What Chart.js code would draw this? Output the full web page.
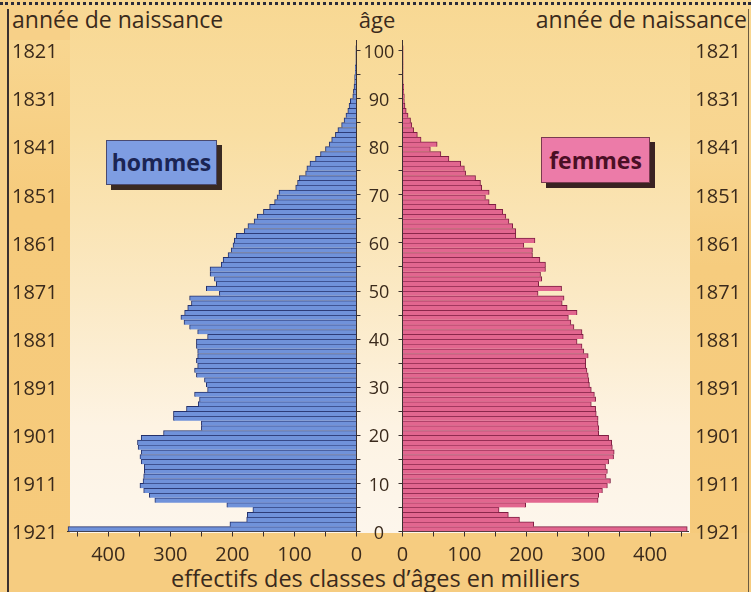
<!DOCTYPE html>
<html><head><meta charset="utf-8">
<script src="https://cdn.jsdelivr.net/npm/chart.js@4/dist/chart.umd.min.js"></script>
<style>
html,body{margin:0;padding:0;}
body{width:751px;height:592px;overflow:hidden;position:relative;font-family:"Open Sans",sans-serif;color:#3a2a1c;background:#F7D088;}
.abs{position:absolute;}
#inner{left:70px;top:0;width:620px;height:533px;background:linear-gradient(to bottom,#F8D893 0%,#F9DEA2 25%,#FBE9C4 55%,#FDF3E3 80%,#FDF6EC 100%);}
#leftstrip{left:8px;top:40px;width:62px;height:552px;background:linear-gradient(to bottom,#F8D690 0%,#F6CB7C 30%,#F6CA7B 100%);}
#rightstrip{left:690px;top:0;width:61px;height:592px;background:linear-gradient(to bottom,#F8D893 0%,#F8D590 25%,#F6CC7E 45%,#F6CA7B 100%);}
#bottomstrip{left:8px;top:533px;width:743px;height:59px;background:#F6CC80;}
#dots{left:0;top:2px;width:751px;height:0;border-top:3px dotted #2b2b3a;}
#lborder{left:7px;top:9px;width:2px;height:583px;background:#3a3030;}
#rborder{left:748px;top:9px;width:1px;height:583px;background:#6a5a40;}
.t{position:absolute;white-space:nowrap;line-height:1;color:#3a2a1c;}
.box{position:absolute;font-weight:700;font-size:22px;text-align:center;box-sizing:border-box;}
canvas{position:absolute;top:0;}
</style></head>
<body>
<div id="inner" class="abs"></div>
<div id="rightstrip" class="abs"></div>
<div id="leftstrip" class="abs"></div>
<div id="bottomstrip" class="abs"></div>
<div id="dots" class="abs"></div>
<div id="lborder" class="abs"></div>
<div id="rborder" class="abs"></div>

<div class="t" style="left:12px;top:8px;font-size:23px;">année de naissance</div>
<div class="t" style="left:354px;width:46px;text-align:center;top:8px;font-size:22px;">âge</div>
<div class="t" style="right:4px;top:8px;font-size:23px;">année de naissance</div>
<div class="t" style="left:0;width:751px;text-align:center;top:567px;font-size:23.5px;">effectifs des classes d’âges en milliers</div>

<div class="box" style="left:111px;top:145px;width:111px;height:45px;background:#3a2a22;"></div>
<div class="box" style="left:106px;top:140px;width:111px;height:45px;background:#7E9DE2;border:1px solid #4a4a70;color:#1b2554;line-height:43px;font-size:23px;">hommes</div>
<div class="box" style="left:546px;top:142px;width:109px;height:46px;background:#3a2222;"></div>
<div class="box" style="left:541px;top:137px;width:109px;height:46px;background:#EC7BA8;border:1px solid #7a3a50;color:#4a0f25;line-height:44px;font-size:23px;">femmes</div>

<canvas id="cm" width="400" height="592" style="left:0;"></canvas>
<canvas id="cf" width="400" height="592" style="left:351px;"></canvas>

<script>
// ---- data ----
const ages = [0,1,2,3,4,5,6,7,8,9,10,11,12,13,14,15,16,17,18,19,20,21,22,23,24,25,26,27,28,29,30,31,32,33,34,35,36,37,38,39,40,41,42,43,44,45,46,47,48,49,50,51,52,53,54,55,56,57,58,59,60,61,62,63,64,65,66,67,68,69,70,71,72,73,74,75,76,77,78,79,80,81,82,83,84,85,86,87,88,89,90,91,92,93,94,95,96,97,98,99,100];
const hommes = [465,204,177,176,167,209,325,334,343,349,
  344,343,342,342,347,349,347,352,353,347,
  311,250,250,295,295,274,255,253,261,240,
  242,245,258,261,256,258,256,256,258,258,
  240,256,269,278,283,277,272,266,269,221,
  242,226,229,236,236,218,215,207,202,199,
  197,194,181,175,165,160,150,140,132,128,
  125,98,95,92,82,80,75,66,58,50,
  44,40,34,30,24,20,17,14,12,10,
  6,5,4,3,3,2,2,1,1,1,
  1];
const femmes = [460,212,189,171,156,199,316,317,323,331,
  336,329,331,328,333,341,342,339,338,333,
  317,317,316,316,313,312,305,312,310,305,
  302,301,300,298,296,296,300,293,290,282,
  292,290,277,272,268,282,266,258,261,219,
  257,220,225,223,231,231,222,210,210,196,
  214,183,183,178,172,167,162,151,140,134,
  140,128,126,118,102,100,94,75,62,45,
  56,30,24,18,15,13,9,6,4,3,
  3,2,2,1,1,1,1,1,1,1,
  1];
const ageTicks = [0,10,20,30,40,50,60,70,80,90,100];
const yearTicks = [1921,1911,1901,1891,1881,1871,1861,1851,1841,1831,1821];
const effectifTicks = [0,100,200,300,400];

// ---- layout constants ----
const Y0 = 531.5, PXY = 4.81, YMAX = 102;
const TOP = Y0 - YMAX * PXY;
const XAXIS_H = 592 - Y0;
const INK = '#3a2a1c', LINE = '#3b3030';
Chart.defaults.font.family = '"Open Sans", sans-serif';
Chart.defaults.color = INK;

function keepFive(scale){ scale.ticks = scale.ticks.filter(t => Math.abs(t.value % 5) < 1e-6); }
function keepFifty(scale){ scale.ticks = scale.ticks.filter(t => Math.abs(t.value % 50) < 1e-6); }
function xAxis(max, reverse){
  return {type:'linear', min:0, max:max, reverse:reverse, position:'bottom', offset:false,
    afterBuildTicks: keepFifty,
    afterFit: s => { s.height = XAXIS_H; },
    ticks:{stepSize:50, includeBounds:false, autoSkip:false, maxRotation:0, padding:7, font:{size:20}, color:INK,
      callback: v => effectifTicks.includes(v) ? String(v) : ''},
    grid:{drawOnChartArea:false, drawTicks:true, tickLength:5, color:LINE, lineWidth:1, offset:false},
    border:{display:true, color:LINE, width:1}};
}
function yearAxis(position, width){
  return {type:'linear', axis:'y', min:0, max:YMAX, position:position, offset:false,
    afterBuildTicks: s => { s.ticks = s.ticks.filter(t => ageTicks.includes(t.value)); },
    afterFit: s => { s.width = width; },
    ticks:{stepSize:10, includeBounds:false, autoSkip:false, crossAlign:'far', padding:0, labelOffset:2, font:{size:20}, color:INK,
      callback: v => { const i = ageTicks.indexOf(v); return i >= 0 ? String(yearTicks[i]) : ''; }},
    grid:{display:false, drawTicks:false, offset:false}, border:{display:false}};
}
function ageAxis(position, width, showLabels){
  return {type:'linear', min:0, max:YMAX, position:position, offset:false,
    afterBuildTicks: keepFive,
    afterFit: s => { s.width = width; },
    ticks:{stepSize:5, includeBounds:false, autoSkip:false, crossAlign:'center', padding:3, labelOffset:2, font:{size:18}, color:INK,
      callback: v => (showLabels && ageTicks.includes(v)) ? String(v) : ''},
    grid:{drawOnChartArea:false, drawTicks:true, tickLength:4, color:LINE, lineWidth:1, offset:false},
    border:{display:true, color:LINE, width:1}};
}
function ds(values, fill, stroke){
  return {data: values.map((v,i) => ({x:v, y:ages[i] + 0.5})),
    backgroundColor:fill, borderColor:stroke,
    borderWidth:{top:1, bottom:0, left:1, right:1}, borderSkipped:'start',
    barPercentage:1, categoryPercentage:1};
}
const common = {indexAxis:'y', animation:false, responsive:false, maintainAspectRatio:false,
  plugins:{legend:{display:false}, tooltip:{enabled:false}}, events:[]};

// men: axis 0 at x=356.5, 0.6205 px per thousand
const MAXM = 466, LEFTM = 356.5 - MAXM * 0.6205;
new Chart(document.getElementById('cm'), {
  type:'bar',
  data:{datasets:[ds(hommes, '#7092DA', '#24306A')]},
  options:Object.assign({}, common, {
    layout:{autoPadding:false, padding:{left:12, top:TOP, right:0, bottom:0}},
    scales:{
      x: xAxis(MAXM, true),
      y: ageAxis('right', 400 - 356.5, true),
      yr: yearAxis('left', LEFTM - 12)
    }
  })
});

// women: axis 0 at x=402.5 (page), 0.619 px per thousand
const MAXF = 462, OFF = 351, LEFTF = 402.5 - OFF, RIGHTF = LEFTF + MAXF * 0.619;
new Chart(document.getElementById('cf'), {
  type:'bar',
  data:{datasets:[ds(femmes, '#E2668F', '#7E1E42')]},
  options:Object.assign({}, common, {
    layout:{autoPadding:false, padding:{left:0, top:TOP, right:10, bottom:0}},
    scales:{
      x: xAxis(MAXF, false),
      y: ageAxis('left', LEFTF, false),
      yr: yearAxis('right', 400 - 10 - RIGHTF)
    }
  })
});
</script>
</body></html>
